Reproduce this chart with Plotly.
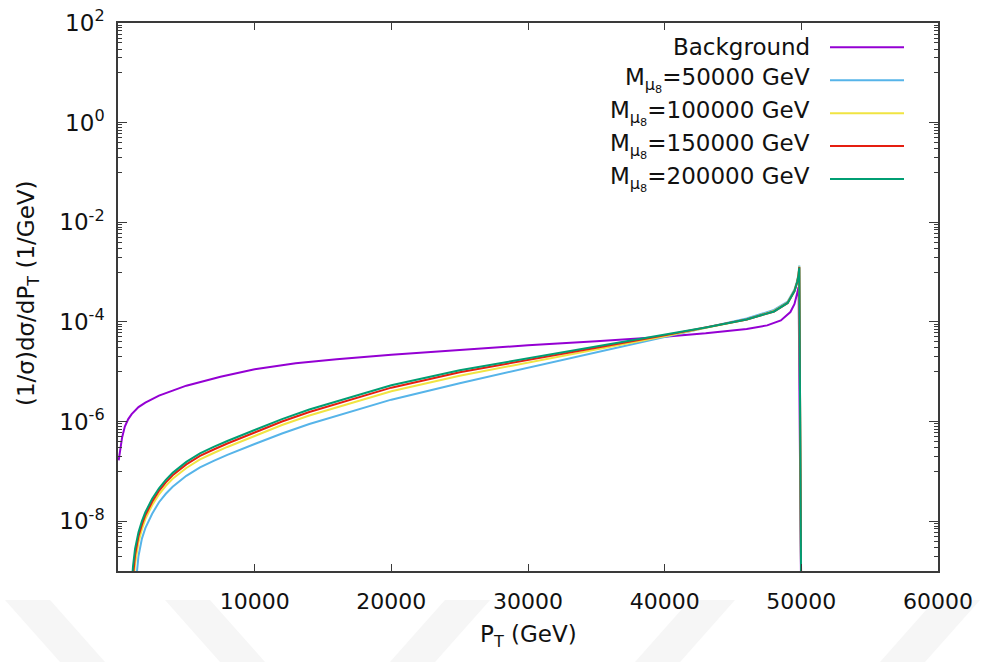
import plotly.graph_objects as go

# Normalised transverse-momentum spectra: SM background and four mu_8 masses
pt_background = [50, 150, 300, 500, 750, 1000, 1500, 2000, 3000, 4000, 5000, 7500,
                 10000, 13000, 16000, 20000, 25000, 30000, 35000, 40000, 43000,
                 46000, 47500, 48500, 49200, 49500, 49700, 49800, 50000]
background = [1.66e-7, 2.82e-7, 4.79e-7, 7.94e-7, 1.12e-6, 1.41e-6, 1.95e-6, 2.40e-6,
              3.31e-6, 4.17e-6, 5.25e-6, 7.94e-6, 1.12e-5, 1.48e-5, 1.78e-5, 2.19e-5,
              2.75e-5, 3.39e-5, 4.07e-5, 5.01e-5, 5.89e-5, 7.24e-5, 8.51e-5, 1.07e-4,
              1.58e-4, 2.29e-4, 3.80e-4, 5.01e-4, 1e-10]

pt_signal = [1000, 1100, 1250, 1500, 1750, 2000, 2500, 3000, 3500, 4000, 5000, 6000,
             7000, 8000, 10000, 12000, 14000, 17000, 20000, 25000, 30000, 35000, 40000,
             43000, 46000, 48000, 49000, 49500, 49700, 49800, 49850, 50000]
m_50000 = [1e-10, 1e-10, 3.98e-10, 2.0e-9, 4.47e-9, 7.24e-9, 1.41e-8, 2.40e-8, 3.55e-8,
           4.90e-8, 8.13e-8, 1.20e-7, 1.62e-7, 2.14e-7, 3.55e-7, 5.75e-7, 8.91e-7,
           1.58e-6, 2.75e-6, 5.89e-6, 1.20e-5, 2.45e-5, 5.01e-5, 7.76e-5, 1.17e-4,
           1.74e-4, 2.57e-4, 4.47e-4, 6.76e-4, 9.55e-4, 1.35e-3, 1e-10]
m_100000 = [1.26e-10, 5.01e-10, 1.41e-9, 3.80e-9, 6.92e-9, 1.10e-8, 2.09e-8, 3.47e-8,
            5.13e-8, 7.08e-8, 1.17e-7, 1.74e-7, 2.34e-7, 3.09e-7, 5.13e-7, 8.51e-7,
            1.32e-6, 2.34e-6, 4.07e-6, 8.32e-6, 1.51e-5, 2.82e-5, 5.13e-5, 7.59e-5,
            1.12e-4, 1.66e-4, 2.45e-4, 4.27e-4, 6.46e-4, 9.12e-4, 1.29e-3, 1e-10]
m_150000 = [2.51e-10, 7.94e-10, 2.09e-9, 5.01e-9, 8.51e-9, 1.32e-8, 2.45e-8, 4.07e-8,
            6.03e-8, 8.32e-8, 1.38e-7, 2.04e-7, 2.75e-7, 3.63e-7, 6.03e-7, 1.0e-6,
            1.55e-6, 2.75e-6, 4.79e-6, 9.77e-6, 1.70e-5, 3.02e-5, 5.37e-5, 7.76e-5,
            1.12e-4, 1.62e-4, 2.40e-4, 4.17e-4, 6.31e-4, 8.91e-4, 1.26e-3, 1e-10]
m_200000 = [5.0e-10, 1.26e-9, 2.82e-9, 6.03e-9, 1.0e-8, 1.51e-8, 2.82e-8, 4.57e-8,
            6.76e-8, 9.33e-8, 1.55e-7, 2.29e-7, 3.09e-7, 4.07e-7, 6.76e-7, 1.12e-6,
            1.74e-6, 3.09e-6, 5.37e-6, 1.07e-5, 1.86e-5, 3.24e-5, 5.50e-5, 7.76e-5,
            1.12e-4, 1.62e-4, 2.40e-4, 4.17e-4, 6.31e-4, 8.71e-4, 1.23e-3, 1e-10]

series_names = ["Background",
                "M<sub>μ<sub>8</sub></sub>=50000 GeV",
                "M<sub>μ<sub>8</sub></sub>=100000 GeV",
                "M<sub>μ<sub>8</sub></sub>=150000 GeV",
                "M<sub>μ<sub>8</sub></sub>=200000 GeV"]
series_colors = ["#9400d3", "#56b4e9", "#f0e442", "#e51e10", "#009e73"]

x_ticks = [10000, 20000, 30000, 40000, 50000, 60000]
y_ticks = [1e-8, 1e-6, 1e-4, 1e-2, 1e0, 1e2]
y_ticktext = ["10<sup>-8</sup>", "10<sup>-6</sup>", "10<sup>-4</sup>",
              "10<sup>-2</sup>", "10<sup>0</sup>", "10<sup>2</sup>"]
# minor ticks fill the decade just below each labelled power
y_minor = [m * 10.0 ** e for e in range(-8, 3, 2) for m in
           (0.1, 0.2, 0.3, 0.4, 0.5, 0.6, 0.7, 0.8, 0.9)]

FONT = "DejaVu Sans"
AXIS = "#3a3a3a"
TEXT = "#111111"

fig = go.Figure()
curves = [(pt_background, background), (pt_signal, m_50000), (pt_signal, m_100000),
          (pt_signal, m_150000), (pt_signal, m_200000)]
for (xs, ys), name, col in zip(curves, series_names, series_colors):
    fig.add_trace(go.Scatter(x=xs, y=ys, mode="lines", name=name, showlegend=False,
                             line=dict(color=col, width=2)))

# plot-area geometry in pixels
W, H = 983, 662
L, R, T, B = 118, 45, 23, 91
pw, ph = W - L - R, H - T - B


def px(xp):
    return (xp - L) / pw


def py(yp):
    return (H - B - yp) / ph


annotations = []
shapes = []

# faint diagonal bands along the bottom of the page
bands = [((5, 600), (50, 600), (105, 662), (60, 662)),
         ((165, 600), (210, 600), (265, 662), (220, 662)),
         ((445, 600), (490, 600), (435, 662), (390, 662)),
         ((690, 600), (735, 600), (680, 662), (635, 662)),
         ((935, 600), (980, 600), (925, 662), (880, 662))]
for quad in bands:
    path = "M " + " L ".join(f"{px(a):.4f},{py(b):.4f}" for a, b in quad) + " Z"
    shapes.append(dict(type="path", xref="paper", yref="paper", path=path,
                       fillcolor="#f6f6f6", line=dict(width=0), layer="below"))

rows_y = [47.3, 80.3, 113.3, 146.0, 179.0]
for name, col, yy in zip(series_names, series_colors, rows_y):
    annotations.append(dict(text=name, x=px(812), y=py(yy), xref="paper", yref="paper",
                            xanchor="right", yanchor="middle", showarrow=False,
                            font=dict(family=FONT, size=23, color=TEXT)))
    shapes.append(dict(type="line", xref="paper", yref="paper", x0=px(830), x1=px(904),
                       y0=py(yy), y1=py(yy), line=dict(color=col, width=2)))

annotations.append(dict(text="(1/σ)dσ/dP<sub>T</sub> (1/GeV)", x=px(28), y=py(293),
                        xref="paper", yref="paper", textangle=-90, showarrow=False,
                        xanchor="center", yanchor="middle",
                        font=dict(family=FONT, size=23, color=TEXT)))
annotations.append(dict(text="P<sub>T</sub> (GeV)", x=px(528), y=py(636),
                        xref="paper", yref="paper", showarrow=False,
                        xanchor="center", yanchor="middle",
                        font=dict(family=FONT, size=23, color=TEXT)))

fig.update_layout(
    width=W, height=H,
    margin=dict(l=L, r=R, t=T, b=B, autoexpand=False),
    paper_bgcolor="white", plot_bgcolor="white",
    annotations=annotations, shapes=shapes,
    xaxis=dict(range=[0, 60000], tickmode="array", tickvals=x_ticks,
               ticktext=[str(v) for v in x_ticks], ticks="inside", ticklen=7,
               tickwidth=1, tickcolor=AXIS, showline=True, linecolor=AXIS,
               linewidth=1.5, mirror="allticks", showgrid=False, zeroline=False,
               automargin=False, ticklabelstandoff=10,
               tickfont=dict(family=FONT, size=22, color=TEXT)),
    yaxis=dict(type="log", range=[-9, 2], tickmode="array", tickvals=y_ticks,
               ticktext=y_ticktext, ticks="inside", ticklen=9, tickwidth=1,
               tickcolor=AXIS, showline=True, linecolor=AXIS, linewidth=1.5,
               mirror="allticks", showgrid=False, zeroline=False,
               automargin=False, ticklabelstandoff=7,
               tickfont=dict(family=FONT, size=23, color=TEXT),
               minor=dict(tickmode="array", tickvals=y_minor, ticks="inside",
                          ticklen=4, tickwidth=1, tickcolor=AXIS, showgrid=False)),
)

fig.write_html("out.html")
